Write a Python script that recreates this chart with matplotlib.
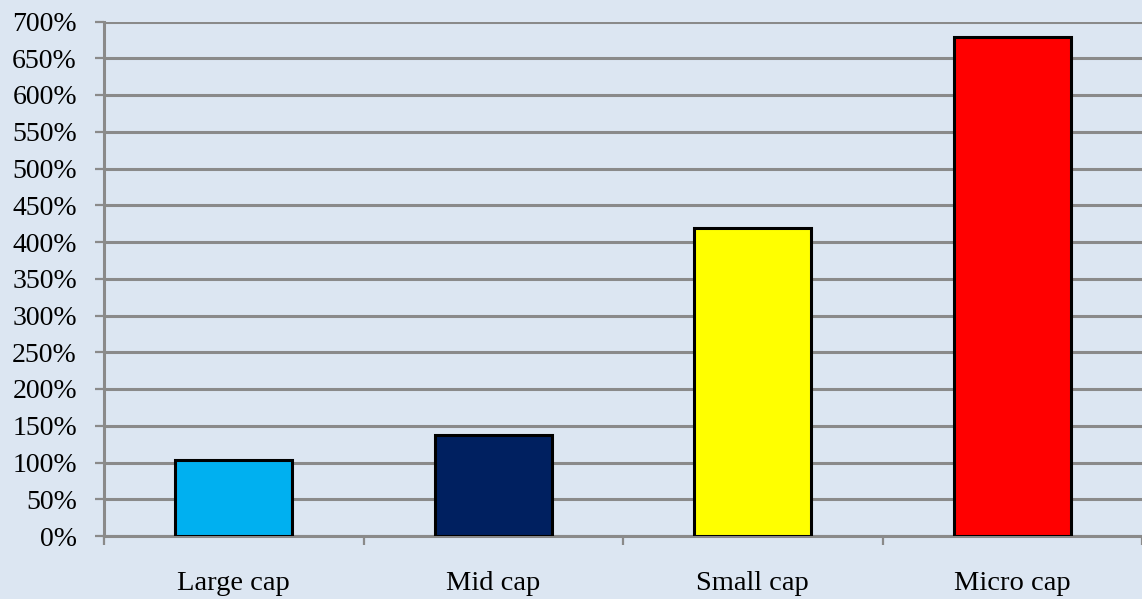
import matplotlib
matplotlib.use("Agg")
import matplotlib.pyplot as plt
from matplotlib.ticker import FixedLocator, FuncFormatter

categories = ["Large cap", "Mid cap", "Small cap", "Micro cap"]
values = [104, 137.5, 419, 679]
colors = ["#00b0f0", "#002060", "#ffff00", "#ff0000"]
yticks = list(range(0, 701, 50))

bg = "#dce6f2"
grid_c = "#8a8a8a"

plt.rcParams["font.family"] = ["Liberation Serif", "DejaVu Serif"]

fig = plt.figure(figsize=(11.42, 5.99), dpi=100, facecolor=bg)
ax = fig.add_axes([104 / 1142, 63 / 599, 1 - 104 / 1142, (536 - 21.5) / 599])
ax.set_facecolor(bg)

x = list(range(len(categories)))
ax.bar(x, values, width=0.45, color=colors, edgecolor="black", linewidth=2.2, zorder=3)

ax.set_xlim(-0.5, 3.5)
ax.set_ylim(0, 700)
ax.set_yticks(yticks)
ax.yaxis.set_major_formatter(FuncFormatter(lambda v, p: f"{int(v)}%"))
ax.yaxis.grid(True, color=grid_c, linewidth=2.2, zorder=0)
ax.set_axisbelow(True)

ax.set_xticks(x)
ax.set_xticklabels(categories)
ax.xaxis.set_minor_locator(FixedLocator([-0.5, 0.5, 1.5, 2.5, 3.5]))
ax.tick_params(axis="x", which="major", length=0, pad=25, labelsize=20.5)
ax.tick_params(axis="x", which="minor", length=6.5, width=1.6, color=grid_c, direction="out")
ax.tick_params(axis="y", which="major", length=6.5, width=1.6, color=grid_c, direction="out", pad=13, labelsize=20)

for s in ["top", "right"]:
    ax.spines[s].set_visible(False)
for s in ["left", "bottom"]:
    ax.spines[s].set_color(grid_c)
    ax.spines[s].set_linewidth(2.2)

fig.savefig("out.png", dpi=100, facecolor=bg)
